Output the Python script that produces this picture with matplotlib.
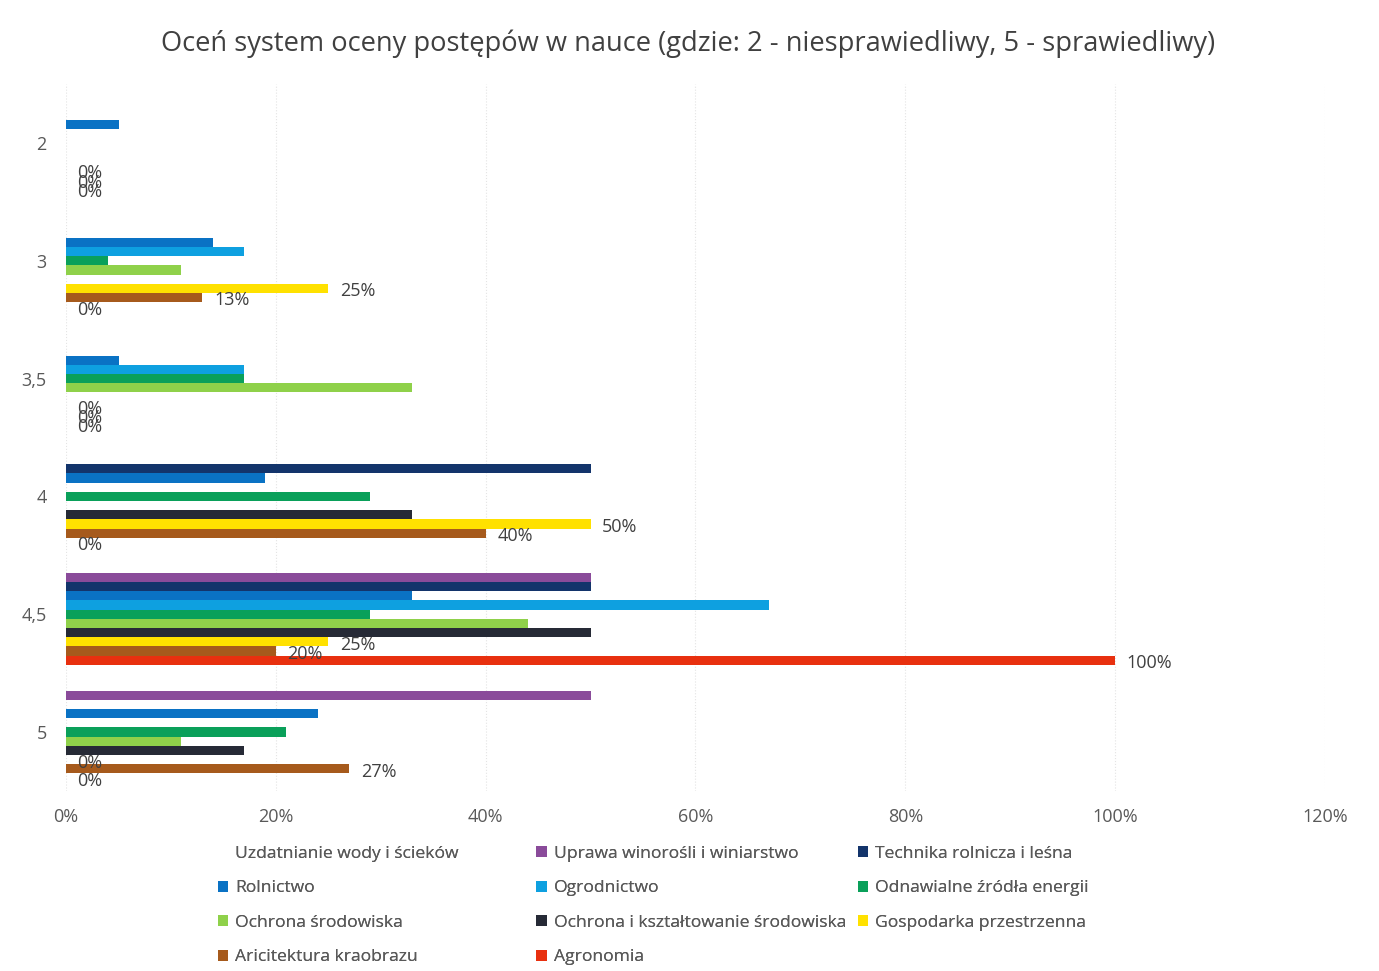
import matplotlib

matplotlib.use("Agg")
import matplotlib.pyplot as plt
import numpy as np
from matplotlib.patches import Patch

plt.rcParams["font.family"] = ["Open Sans", "DejaVu Sans"]

TITLE = "Oceń system oceny postępów w nauce (gdzie: 2 - niesprawiedliwy, 5 - sprawiedliwy)"
CATEGORIES = ["2", "3", "3,5", "4", "4,5", "5"]

SERIES = [
    "Uzdatnianie wody i ścieków",
    "Uprawa winorośli i winiarstwo",
    "Technika rolnicza i leśna",
    "Rolnictwo",
    "Ogrodnictwo",
    "Odnawialne źródła energii",
    "Ochrona środowiska",
    "Ochrona i kształtowanie środowiska",
    "Gospodarka przestrzenna",
    "Aricitektura kraobrazu",
    "Agronomia",
]
COLORS = ["none", "#8a4b9a", "#13346b", "#0a72c4", "#0ea0e0", "#0aa05a",
          "#8fd14a", "#262a36", "#ffe100", "#a65a1c", "#e8300f"]

# values in %, one list per series, in category order 2, 3, 3,5, 4, 4,5, 5
uzdatnianie = [0, 0, 0, 0, 0, 0]
uprawa = [0, 0, 0, 0, 50, 50]
technika = [0, 0, 0, 50, 50, 0]
rolnictwo = [5, 14, 5, 19, 33, 24]
ogrodnictwo = [0, 17, 17, 0, 67, 0]
odnawialne = [0, 4, 17, 29, 29, 21]
ochrona = [0, 11, 33, 0, 44, 11]
ochrona_ksz = [0, 0, 0, 33, 50, 17]
gospodarka = [0, 25, 0, 50, 25, 0]
architektura = [0, 13, 0, 40, 20, 27]
agronomia = [0, 0, 0, 0, 100, 0]

VALUES = [uzdatnianie, uprawa, technika, rolnictwo, ogrodnictwo, odnawialne,
          ochrona, ochrona_ksz, gospodarka, architektura, agronomia]
LABELLED = {8, 9, 10}  # series with data labels

fig = plt.figure(figsize=(13.79, 9.71), dpi=100)
ax = fig.add_axes([0.0479, 0.1854, 0.9129, 0.7281])

n = len(SERIES)
h = 0.078
centers = np.arange(len(CATEGORIES))
for i, (name, vals, col) in enumerate(zip(SERIES, VALUES, COLORS)):
    y = centers + (i - (n - 1) / 2) * h
    ax.barh(y, vals, height=h, color=col, label=name, zorder=3)
    if i in LABELLED:
        for yy, v in zip(y, vals):
            ax.text(v + 1.1, yy + 0.025, f"{v}%", va="center", ha="left",
                    fontsize=13, color="#404040", zorder=4)

ax.set_xlim(0, 120)
ax.set_ylim(len(CATEGORIES) - 0.5, -0.5)
ax.set_xticks(np.arange(0, 121, 20))
ax.set_xticklabels([f"{t}%" for t in range(0, 121, 20)])
ax.set_yticks(centers)
ax.set_yticklabels(CATEGORIES)
ax.tick_params(axis="both", length=0, labelsize=13, colors="#595959")
ax.tick_params(axis="x", pad=12)
ax.tick_params(axis="y", pad=14)
ax.grid(axis="x", color="#e4e4e4", linewidth=0.8, linestyle=":", zorder=0)
for s in ax.spines.values():
    s.set_visible(False)

fig.text(0.499, 0.955, TITLE, ha="center", va="center", fontsize=19.6, color="#404040")

# legend: three columns placed by hand, filled row by row
handles = [Patch(facecolor=c if c != "none" else "white", edgecolor="none") for c in COLORS]
col_x = [0.158, 0.389, 0.622]
for c, x0 in enumerate(col_x):
    idx = list(range(c, n, 3))
    leg = fig.legend([handles[k] for k in idx], [SERIES[k] for k in idx],
                     loc="upper left", bbox_to_anchor=(x0, 0.129), frameon=False,
                     fontsize=12.6, handlelength=0.6, handleheight=0.6,
                     handletextpad=0.4, labelspacing=1.06, borderpad=0, borderaxespad=0)
    for t in leg.get_texts():
        t.set_color("#595959")
    fig.add_artist(leg)

fig.savefig("out.png", dpi=100, facecolor="white")
